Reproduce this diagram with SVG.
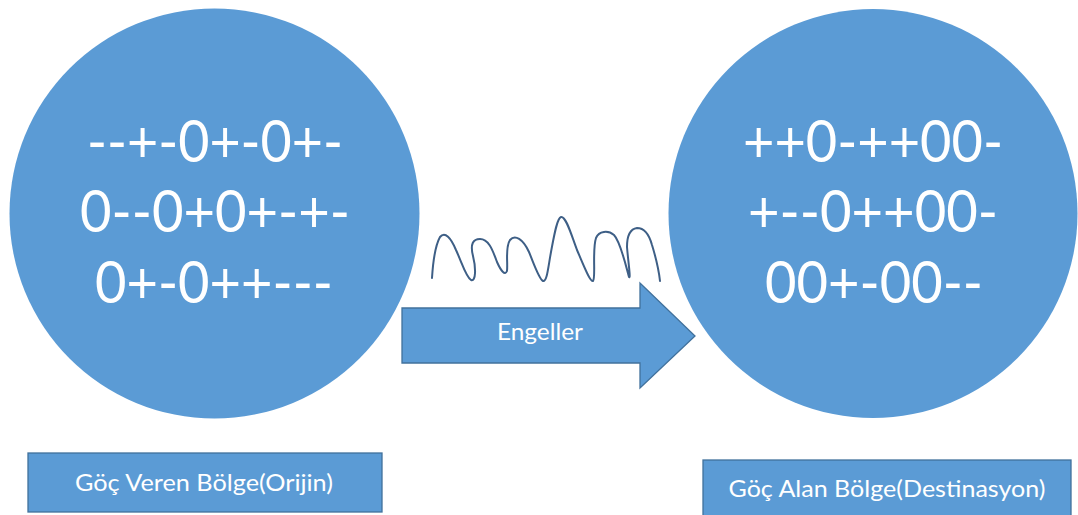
<svg xmlns="http://www.w3.org/2000/svg" width="1078" height="515" viewBox="0 0 1078 515">
<style>
.blob{fill:#5B9BD5;}
.box{fill:#5B9BD5;stroke:#41719C;stroke-width:1.3;}
.big{font-family:Lato,"Open Sans",sans-serif;font-size:58px;fill:#fff;text-anchor:middle;}
.lbl{font-family:Lato,"Open Sans",sans-serif;font-size:24px;fill:#fff;text-anchor:middle;}
.wave{fill:none;stroke:#3E5F86;stroke-width:2;stroke-linecap:round;stroke-linejoin:round;}
</style>
<rect width="1078" height="515" fill="#fff"/>
<g id="origin">
<circle class="blob" cx="214.5" cy="213.5" r="205"/>
<text class="big" x="215" y="162" textLength="256" lengthAdjust="spacingAndGlyphs">--+-0+-0+-</text>
<text class="big" x="215" y="232" textLength="270" lengthAdjust="spacingAndGlyphs">0--0+0+-+-</text>
<text class="big" x="214" y="303" textLength="238" lengthAdjust="spacingAndGlyphs">0+-0++---</text>
</g>
<g id="destination">
<circle class="blob" cx="873" cy="213.5" r="204.5"/>
<text class="big" x="873" y="162" textLength="260" lengthAdjust="spacingAndGlyphs">++0-++00-</text>
<text class="big" x="873" y="232" textLength="250" lengthAdjust="spacingAndGlyphs">+--0++00-</text>
<text class="big" x="874" y="303" textLength="218" lengthAdjust="spacingAndGlyphs">00+-00--</text>
</g>
<g id="connectors">
<g id="flow-arrow">
<path class="box" d="M402,308 H640 V283 L695,336 L640,388 V363 H402 Z"/>
<text class="lbl" x="540" y="340" textLength="86" lengthAdjust="spacingAndGlyphs">Engeller</text>
</g>
</g>
<g id="obstacles">
<path class="wave" d="M432,278 C433,262 435,246 440,237 C445,231 451,238 456,250 C462,263 466,277 471,280 C476,282 476,268 473,256 C470,244 473,239 480,239 C488,239 492,248 497,262 C501,271 505,276 507,271 C508,262 505,247 510,240 C515,234 523,239 529,252 C534,264 539,279 543,281 C547,282 548,268 551,252 C554,236 557,218 561,217 C566,216 571,234 577,250 C584,266 590,282 593,281 C596,278 592,250 596,238 C599,231 608,230 614,235 C620,241 625,262 629,277 C631,280 628,260 627,247 C627,236 630,229 637,228 C644,228 649,234 652,245 C656,258 659,272 660,281"/>
</g>
<g id="origin-label">
<rect class="box" x="28" y="453" width="354" height="59"/>
<text class="lbl" x="204" y="491" textLength="258" lengthAdjust="spacingAndGlyphs">Göç Veren Bölge(Orijin)</text>
</g>
<g id="destination-label">
<rect class="box" x="703" y="460" width="368" height="60"/>
<text class="lbl" x="887" y="497" textLength="317" lengthAdjust="spacingAndGlyphs">Göç Alan Bölge(Destinasyon)</text>
</g>
</svg>
